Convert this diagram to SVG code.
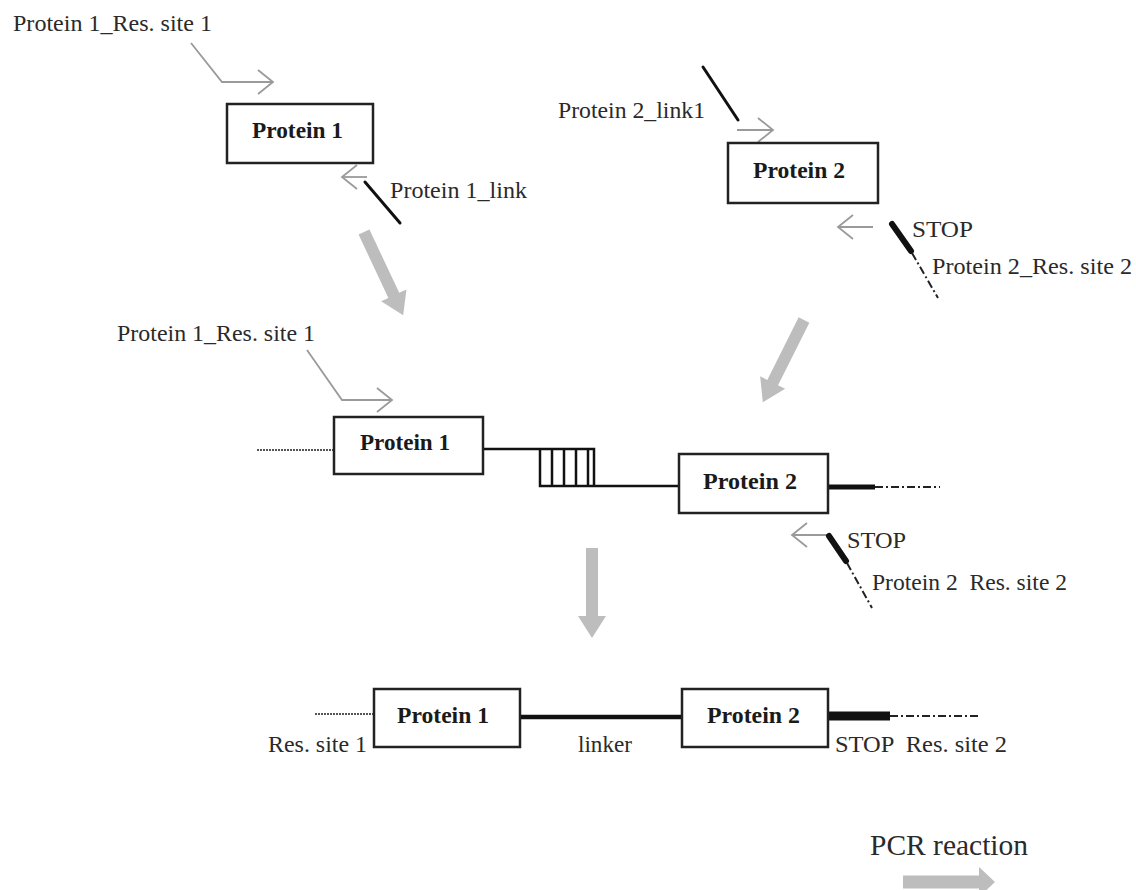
<svg xmlns="http://www.w3.org/2000/svg" width="1136" height="890" viewBox="0 0 1136 890">
<style>
text{font-family:"Liberation Serif","Times New Roman",serif;font-size:24px;fill:#2a2a2a}
.b{font-weight:bold;font-size:23px;fill:#1a1a1a}
.box{fill:#fff;stroke:#222;stroke-width:2.5}
.thin{fill:none;stroke:#9a9a9a;stroke-width:1.8;stroke-linejoin:miter}
.blk{fill:none;stroke:#111;stroke-width:3;stroke-linecap:round}
.stop{fill:none;stroke:#111;stroke-width:6;stroke-linecap:round}
.dd{fill:none;stroke:#222;stroke-width:2;stroke-dasharray:8 3 2 3}
.dot{fill:none;stroke:#555;stroke-width:2;stroke-dasharray:2 1}
.ln{fill:none;stroke:#111;stroke-width:2.5}
.big{fill:#bdbdbd}
</style>
<defs>
<marker id="chev" markerUnits="userSpaceOnUse" markerWidth="20" markerHeight="30" refX="16" refY="13" orient="auto" viewBox="0 0 20 26">
<path d="M1,1 L16,13 L1,25" fill="none" stroke="#9a9a9a" stroke-width="1.8"/>
</marker>
</defs>
<rect width="1136" height="890" fill="#fff"/>

<g id="connectors">
<path class="thin" d="M191,43 L222,82 H273" marker-end="url(#chev)"/>
<path class="thin" d="M367,177 H342" marker-end="url(#chev)"/>
<path class="thin" d="M737,130 H773" marker-end="url(#chev)"/>
<path class="thin" d="M873,227 H838" marker-end="url(#chev)"/>
<path class="thin" d="M307,350 L342,400 H392" marker-end="url(#chev)"/>
<path class="thin" d="M827,535 H792" marker-end="url(#chev)"/>
<line class="blk" x1="365" y1="182" x2="400" y2="223"/>
<line class="blk" x1="703" y1="67" x2="738" y2="120"/>
<line class="stop" x1="892" y1="224" x2="911" y2="251"/>
<line class="dd" x1="912" y1="253" x2="938" y2="298"/>
<line class="stop" x1="829" y1="536" x2="846" y2="561"/>
<line class="dd" x1="847" y1="563" x2="872" y2="608"/>
<line class="dot" x1="257" y1="450" x2="334" y2="450"/>
<path class="ln" d="M483,449 H594 V486 H540 V449 M552,449 V486 M564,449 V486 M576,449 V486 M588,449 V486 M594,486 H679"/>
<line x1="828" y1="487" x2="875" y2="487" stroke="#111" stroke-width="5"/>
<line class="dd" x1="875" y1="487" x2="940" y2="487"/>
<line class="dot" x1="315" y1="714" x2="374" y2="714"/>
<line x1="520" y1="717" x2="682" y2="717" stroke="#111" stroke-width="4.5"/>
<line x1="828" y1="716" x2="890" y2="716" stroke="#111" stroke-width="9"/>
<line class="dd" x1="890" y1="716" x2="978" y2="716"/>
<path class="big" d="M0,-6 H70 V-14 L92,0 L70,14 V6 H0 Z" transform="translate(364,232) rotate(64.8)"/>
<path class="big" d="M0,-6 H70 V-14 L92,0 L70,14 V6 H0 Z" transform="translate(804,320) rotate(116.6)"/>
<path class="big" d="M0,-6 H68 V-14 L90,0 L68,14 V6 H0 Z" transform="translate(592,548) rotate(90)"/>
<path class="big" d="M0,-6.5 H76 V-15 L92,0 L76,15 V6.5 H0 Z" transform="translate(903,882)"/>
</g>

<g id="top-protein1">
<rect class="box" x="227" y="104" width="146" height="59"/>
<text class="b" x="252" y="138" textLength="91" lengthAdjust="spacingAndGlyphs">Protein 1</text>
</g>
<g id="top-protein2">
<rect class="box" x="728" y="143" width="150" height="60"/>
<text class="b" x="753" y="178" textLength="92" lengthAdjust="spacingAndGlyphs">Protein 2</text>
</g>
<g id="mid-protein1">
<rect class="box" x="334" y="417" width="149" height="57"/>
<text class="b" x="360" y="450" textLength="90" lengthAdjust="spacingAndGlyphs">Protein 1</text>
</g>
<g id="mid-protein2">
<rect class="box" x="679" y="454" width="149" height="59"/>
<text class="b" x="703" y="489" textLength="94" lengthAdjust="spacingAndGlyphs">Protein 2</text>
</g>
<g id="bot-protein1">
<rect class="box" x="374" y="689" width="146" height="58"/>
<text class="b" x="397" y="723" textLength="92" lengthAdjust="spacingAndGlyphs">Protein 1</text>
</g>
<g id="bot-protein2">
<rect class="box" x="682" y="689" width="146" height="58"/>
<text class="b" x="707" y="723" textLength="93" lengthAdjust="spacingAndGlyphs">Protein 2</text>
</g>

<g id="labels">
<text x="13" y="31" textLength="199" lengthAdjust="spacingAndGlyphs">Protein 1_Res. site 1</text>
<text x="390" y="198" textLength="137" lengthAdjust="spacingAndGlyphs">Protein 1_link</text>
<text x="558" y="118" textLength="147" lengthAdjust="spacingAndGlyphs">Protein 2_link1</text>
<text x="912" y="237" textLength="61" lengthAdjust="spacingAndGlyphs">STOP</text>
<text x="932" y="274" textLength="200" lengthAdjust="spacingAndGlyphs">Protein 2_Res. site 2</text>
<text x="117" y="341" textLength="198" lengthAdjust="spacingAndGlyphs">Protein 1_Res. site 1</text>
<text x="847" y="548" textLength="59" lengthAdjust="spacingAndGlyphs">STOP</text>
<text x="872" y="590" textLength="195" lengthAdjust="spacingAndGlyphs" xml:space="preserve">Protein 2  Res. site 2</text>
<text x="268" y="752" textLength="99" lengthAdjust="spacingAndGlyphs">Res. site 1</text>
<text x="578" y="752" textLength="54" lengthAdjust="spacingAndGlyphs">linker</text>
<text x="835" y="752" textLength="172" lengthAdjust="spacingAndGlyphs" xml:space="preserve">STOP  Res. site 2</text>
<text x="870" y="855" textLength="158" lengthAdjust="spacingAndGlyphs" style="font-size:29px">PCR reaction</text>
</g>
</svg>
